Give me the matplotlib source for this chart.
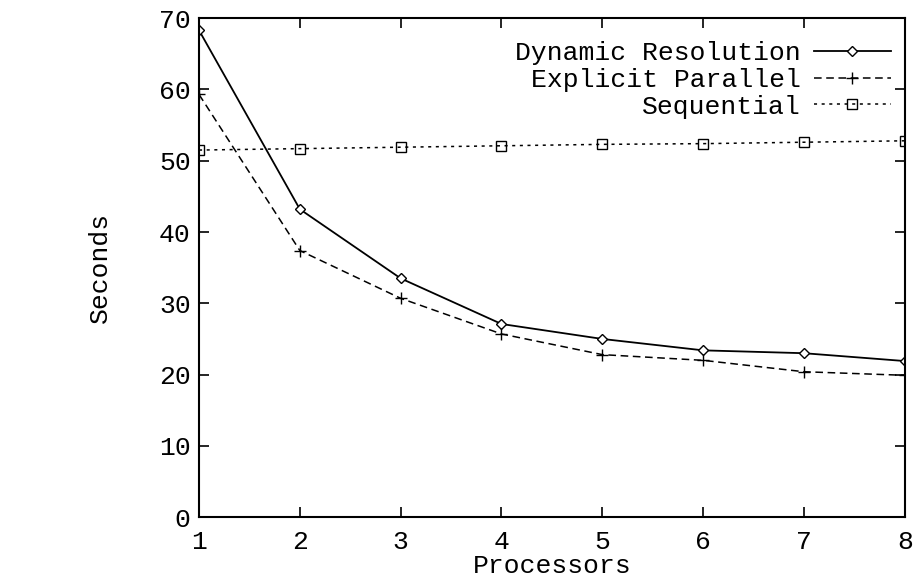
import matplotlib.pyplot as plt
import numpy as np

processors = [1, 2, 3, 4, 5, 6, 7, 8]
dynamic = [68.3, 43.2, 33.5, 27.1, 25.0, 23.4, 23.0, 21.9]
explicit = [59.3, 37.4, 30.7, 25.7, 22.8, 22.0, 20.4, 19.9]
sequential = [51.5, 51.7, 51.9, 52.1, 52.3, 52.4, 52.6, 52.8]

plt.rcParams['font.family'] = ['Liberation Mono', 'DejaVu Sans Mono']
fs = 19

fig = plt.figure(figsize=(9.13, 5.87), dpi=100)
ax = fig.add_axes([0.218, 0.119, 0.773, 0.850])

ax.plot(processors, dynamic, color='black', lw=1.3, ls='-', marker='D',
        ms=5, mfc='white', mec='black', mew=1, label='Dynamic Resolution')
ax.plot(processors, explicit, color='black', lw=1.1, ls=(0, (5, 3)), marker='+',
        ms=9, mew=1, label='Explicit Parallel')
ax.plot(processors, sequential, color='black', lw=1.1, ls=(0, (2, 3)), marker='s',
        ms=7, mfc='none', mec='black', mew=1, label='Sequential')

ax.set_xlim(1, 8)
ax.set_ylim(0, 70)
ax.set_xticks(processors)
ax.set_yticks(np.arange(0, 71, 10))
ax.tick_params(direction='in', length=7, width=1.2, labelsize=fs,
               top=True, right=True)
ax.tick_params(axis='x', pad=9)
ax.tick_params(axis='y', pad=6)
for s in ax.spines.values():
    s.set_linewidth(1.5)

ax.set_xlabel('Processors', fontsize=fs, labelpad=0)
ax.set_ylabel('Seconds', fontsize=fs, labelpad=34)

leg = ax.legend(loc='upper right', bbox_to_anchor=(0.995, 0.975), frameon=False,
                markerfirst=False, fontsize=fs, handlelength=2.9,
                handletextpad=0.5, labelspacing=0.1, borderaxespad=0.0)
for t in leg.get_texts():
    t.set_ha('right')
leg._legend_box.align = 'right'

plt.savefig('out.png', dpi=100)
